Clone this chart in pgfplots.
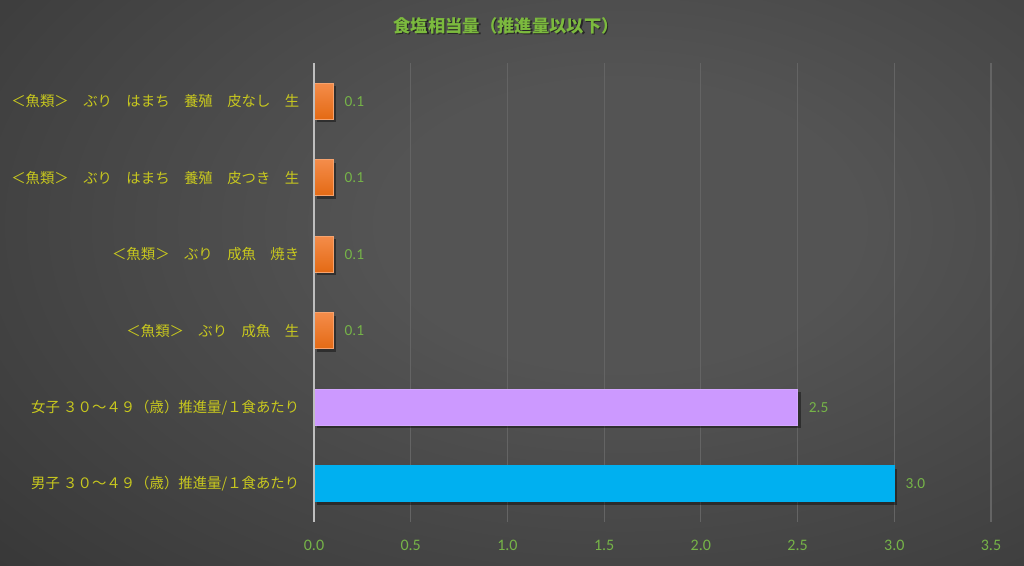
\documentclass[border=0pt]{standalone}
\usepackage{pgfplots}
\pgfplotsset{compat=1.18}
\usepackage{fontspec}
\setmainfont{Carlito}
\newfontfamily\jp{Noto Sans CJK JP}
\definecolor{bgin}{RGB}{84,84,84}
\definecolor{bgout}{RGB}{32,32,32}
\definecolor{titlegreen}{RGB}{124,186,62}
\definecolor{labgreen}{RGB}{118,180,72}
\definecolor{labyellow}{RGB}{200,200,30}
\definecolor{gridc}{RGB}{100,100,100}
\definecolor{orangetop}{RGB}{244,140,74}
\definecolor{orangebot}{RGB}{228,106,20}
\definecolor{purplebar}{RGB}{204,153,255}
\definecolor{bluebar}{RGB}{0,176,240}
\pgfdeclareradialshading{bgshade}{\pgfpoint{0bp}{0bp}}{color(0bp)=(bgin); color(8bp)=(bgin); color(46bp)=(bgout); color(70bp)=(bgout)}
\pgfplotsset{
  shadowbar/.style={fill=black, opacity=0.4, draw=none, forget plot, transform canvas={xshift=2.2pt, yshift=-2.2pt}},
  vlabel/.style={nodes near coords, nodes near coords style={text=labgreen, font=\fontsize{11.5}{13}\selectfont, anchor=west, xshift=5pt,
    /pgf/number format/.cd, fixed, fixed zerofill, precision=1, assume math mode=true}},
}
\begin{document}
\begin{tikzpicture}
\useasboundingbox (0,0) rectangle (768pt,423.75pt);
\begin{scope}
\clip (0,0) rectangle (768pt,423.75pt);
\shade[shading=bgshade] (-90pt,-80pt) rectangle (1020pt,590pt);
\end{scope}
\node[text=black, opacity=0.5] at (380.5pt,403.5pt) {\jp\fontsize{13}{15}\selectfont\bfseries 食塩相当量（推進量以以下）};
\node[text=titlegreen] at (379.5pt,404.5pt) {\jp\fontsize{13}{15}\selectfont\bfseries 食塩相当量（推進量以以下）};
\begin{axis}[
  at={(235.5pt,32.25pt)}, anchor=south west,
  scale only axis, width=507.75pt, height=344.25pt,
  xbar, bar width=27pt, bar shift=0pt,
  xmin=0, xmax=3.5, ymin=-0.5, ymax=5.5,
  xtick={0,0.5,...,3.5},
  ytick={0,1,2,3,4,5},
  yticklabels={
    {男子 ３０～４９（歳）推進量/１食あたり},
    {女子 ３０～４９（歳）推進量/１食あたり},
    {＜魚類＞　ぶり　成魚　生},
    {＜魚類＞　ぶり　成魚　焼き},
    {＜魚類＞　ぶり　はまち　養殖　皮つき　生},
    {＜魚類＞　ぶり　はまち　養殖　皮なし　生}},
  major tick length=0pt,
  axis line style={draw=none},
  xmajorgrids, major grid style={gridc, line width=0.8pt},
  ymajorgrids=false,
  yticklabel style={text=labyellow, font=\jp\fontsize{10.8}{12}\selectfont, xshift=-7.5pt},
  xticklabel style={text=labgreen, font=\fontsize{12}{14}\selectfont, yshift=-10pt,
    /pgf/number format/.cd, fixed, fixed zerofill, precision=1, assume math mode=true},
  clip=false,
]
\addplot[shadowbar] coordinates {(0.1,5)};
\addplot[shadowbar] coordinates {(0.1,4)};
\addplot[shadowbar] coordinates {(0.1,3)};
\addplot[shadowbar] coordinates {(0.1,2)};
\addplot[shadowbar] coordinates {(2.5,1)};
\addplot[shadowbar] coordinates {(3.0,0)};
\addplot[vlabel, draw=orangetop!80!white, top color=orangetop, bottom color=orangebot, line width=0.4pt] coordinates {(0.1,5)};
\addplot[vlabel, draw=orangetop!80!white, top color=orangetop, bottom color=orangebot, line width=0.4pt] coordinates {(0.1,4)};
\addplot[vlabel, draw=orangetop!80!white, top color=orangetop, bottom color=orangebot, line width=0.4pt] coordinates {(0.1,3)};
\addplot[vlabel, draw=orangetop!80!white, top color=orangetop, bottom color=orangebot, line width=0.4pt] coordinates {(0.1,2)};
\addplot[vlabel, draw=purplebar!85!white, fill=purplebar, line width=0.4pt] coordinates {(2.5,1)};
\addplot[vlabel, draw=bluebar, fill=bluebar, line width=0.4pt] coordinates {(3.0,0)};
\draw[draw={rgb,255:red,190;green,190;blue,190}, line width=0.9pt] (axis cs:0,-0.5) -- (axis cs:0,5.5);
\end{axis}
\end{tikzpicture}
\end{document}
